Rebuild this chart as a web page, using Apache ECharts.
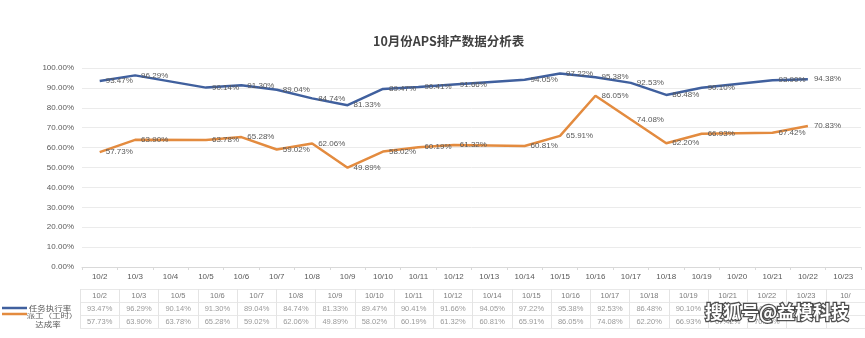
<!DOCTYPE html>
<html>
<head>
<meta charset="utf-8">
<script src="https://cdn.jsdelivr.net/npm/echarts@6/dist/echarts.min.js"></script>
<style>html,body{margin:0;padding:0;background:#fff;}#main{width:865px;height:338px;}</style>
</head>
<body>
<div id="main"></div>
<script>
const titleText = '10月份APS排产数据分析表';
const dates = ['10/2','10/3','10/4','10/5','10/6','10/7','10/8','10/9','10/10','10/11','10/12','10/13','10/14','10/15','10/16','10/17','10/18','10/19','10/20','10/21','10/22','10/23'];
const taskName = '任务执行率';
const dispatchName = '派工（工时）达成率';
const taskRate = [93.47,96.29,null,90.14,91.30,89.04,84.74,81.33,89.47,90.41,91.66,null,94.05,97.22,95.38,92.53,86.48,90.10,null,93.90,94.38,null];
const dispatchRate = [57.73,63.90,null,63.78,65.28,59.02,62.06,49.89,58.02,60.19,61.32,null,60.81,65.91,86.05,74.08,62.20,66.93,null,67.42,70.83,null];
const yMin = 0, yMax = 100, yStep = 10;
const tableDates = ['10/2','10/3','10/5','10/6','10/7','10/8','10/9','10/10','10/11','10/12','10/14','10/15','10/16','10/17','10/18','10/19','10/21','10/22','10/23','10/'];
const watermark = '搜狐号@益模科技';

const BLUE = '#40609e', ORANGE = '#e38b3f', GRAY = '#595959', LGRAY = '#7f7f7f';
const FONT = '"Liberation Sans", Arial, sans-serif';
const CJK = '"Noto Sans CJK SC", sans-serif';
const pct = v => v.toFixed(2) + '%';

function lookup(arr, d) { const i = dates.indexOf(d); return i >= 0 ? arr[i] : null; }
const headerData = tableDates.map((d, i) => [i, 0, d]);
const taskTable = tableDates.map((d, i) => { const v = lookup(taskRate, d); return v == null ? null : [i, 1, pct(v)]; }).filter(Boolean);
const dispTable = tableDates.map((d, i) => { const v = lookup(dispatchRate, d); return v == null ? null : [i, 2, pct(v)]; }).filter(Boolean);

const chart = echarts.init(document.getElementById('main'), null, {renderer: 'canvas'});
const lineLabel = {show: true, position: 'right', distance: 6, color: GRAY, fontSize: 8, fontFamily: FONT, formatter: p => pct(p.value)};
const cellLabel = (color) => ({show: true, position: 'inside', color: color, fontSize: 7.5, fontFamily: FONT, formatter: p => p.value[2]});

chart.setOption({
  animation: false,
  backgroundColor: '#fff',
  title: {text: titleText, left: 368, top: 30, textStyle: {fontSize: 12.5, fontWeight: 'bold', color: '#404040', fontFamily: CJK}},
  grid: [
    {left: 82, top: 68, width: 779, height: 199, containLabel: false},
    {left: 80, top: 289, width: 792, height: 39, containLabel: false}
  ],
  xAxis: [
    {type: 'category', gridIndex: 0, data: dates, boundaryGap: true,
     axisLine: {lineStyle: {color: '#d9d9d9'}}, axisTick: {show: true, length: 3, lineStyle: {color: '#d9d9d9'}},
     axisLabel: {color: GRAY, fontSize: 8, fontFamily: FONT, margin: 6, interval: 0}, splitLine: {show: false}},
    {type: 'category', gridIndex: 1, data: tableDates, boundaryGap: true,
     axisLine: {show: false}, axisTick: {show: false}, axisLabel: {show: false},
     splitLine: {show: true, interval: 0, lineStyle: {color: '#e4e4e4', width: 1}}}
  ],
  yAxis: [
    {type: 'value', gridIndex: 0, min: yMin, max: yMax, interval: yStep,
     axisLine: {show: false}, axisTick: {show: false},
     axisLabel: {color: GRAY, fontSize: 8, fontFamily: FONT, margin: 8, formatter: v => pct(v)},
     splitLine: {lineStyle: {color: '#ebebeb', width: 1}}},
    {type: 'category', gridIndex: 1, data: ['h', 't', 'd'], inverse: true,
     axisLine: {show: false}, axisTick: {show: false}, axisLabel: {show: false},
     splitLine: {show: true, interval: 0, lineStyle: {color: '#e8e8e8', width: 1}}}
  ],
  series: [
    {name: taskName, type: 'line', xAxisIndex: 0, yAxisIndex: 0, data: taskRate, connectNulls: true,
     symbol: 'circle', symbolSize: 0, lineStyle: {color: BLUE, width: 2.5}, itemStyle: {color: BLUE}, label: lineLabel, z: 3},
    {name: dispatchName, type: 'line', xAxisIndex: 0, yAxisIndex: 0, data: dispatchRate, connectNulls: true,
     symbol: 'circle', symbolSize: 0, lineStyle: {color: ORANGE, width: 2.5}, itemStyle: {color: ORANGE}, label: lineLabel, z: 2},
    {type: 'scatter', xAxisIndex: 1, yAxisIndex: 1, data: headerData, symbolSize: 0, label: cellLabel(GRAY), silent: true},
    {type: 'scatter', xAxisIndex: 1, yAxisIndex: 1, data: taskTable, symbolSize: 0, label: cellLabel(LGRAY), silent: true},
    {type: 'scatter', xAxisIndex: 1, yAxisIndex: 1, data: dispTable, symbolSize: 0, label: cellLabel(LGRAY), silent: true}
  ],
  graphic: [
    {type: 'line', shape: {x1: 2, y1: 308, x2: 27, y2: 308}, style: {stroke: BLUE, lineWidth: 2.5}},
    {type: 'text', x: 50, y: 308, scaleY: 0.78, style: {text: taskName, fill: GRAY, font: '8.5px ' + CJK, textAlign: 'center', textVerticalAlign: 'middle'}},
    {type: 'line', shape: {x1: 2, y1: 314, x2: 27, y2: 314}, style: {stroke: ORANGE, lineWidth: 2.5}},
    {type: 'text', x: 52, y: 315, scaleY: 0.78, style: {text: '派工（工时）', fill: GRAY, font: '8.5px ' + CJK, textAlign: 'center', textVerticalAlign: 'middle'}},
    {type: 'text', x: 48, y: 324, scaleY: 0.78, style: {text: '达成率', fill: GRAY, font: '8.5px ' + CJK, textAlign: 'center', textVerticalAlign: 'middle'}},
    {type: 'text', x: 777, y: 312, z: 100, style: {text: watermark, fill: '#ffffff', stroke: 'rgba(50,50,50,0.85)', lineWidth: 2.5, font: 'bold 18px ' + CJK, textAlign: 'center', textVerticalAlign: 'middle'}}
  ]
});
</script>
</body>
</html>
